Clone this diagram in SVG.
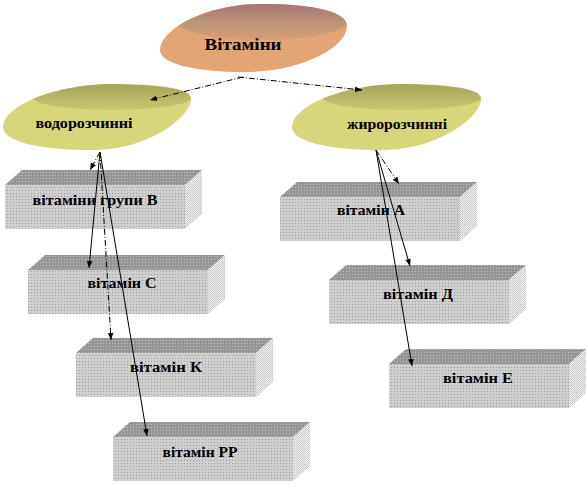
<svg xmlns="http://www.w3.org/2000/svg" width="587" height="484" viewBox="0 0 587 484">
<defs>
<pattern id="pFront" patternUnits="userSpaceOnUse" width="3" height="3"><rect width="3" height="3" fill="#cfcfcf"/><rect x="1" y="1" width="1" height="1" fill="#9c9c9c"/></pattern>
<pattern id="pTop" patternUnits="userSpaceOnUse" width="3" height="3"><rect width="3" height="3" fill="#959595"/><rect x="1" y="1" width="1" height="1" fill="#c4c4c4"/></pattern>
<pattern id="pSide" patternUnits="userSpaceOnUse" width="2" height="2"><rect width="2" height="2" fill="#f4f4f4"/><rect width="1" height="1" fill="#bdbdbd"/><rect x="1" y="1" width="1" height="1" fill="#cfcfcf"/></pattern>
<linearGradient id="gTopMain" x1="0" y1="0" x2="0" y2="1"><stop offset="0" stop-color="#a87078"/><stop offset="0.55" stop-color="#bc9676"/><stop offset="1" stop-color="#d6a074"/></linearGradient>
<linearGradient id="gTopYel" x1="0" y1="0" x2="0" y2="1"><stop offset="0" stop-color="#a4a45c"/><stop offset="1" stop-color="#cac86e"/></linearGradient>
<path id="bodyL" d="M3,127 C3,105 58,84 112,84 C160,84 191,88 191,99 C191,116 150,150 92,150 C40,150 3,142 3,127 Z"/>
<path id="bodyR" d="M292,127 C292,105 347,84 401,84 C449,84 481,88 481,99 C481,116 440,150 381,150 C329,150 292,142 292,127 Z"/>
<path id="bodyM" d="M160,50 C160,30 205,4 262,4 C315,4 347,12 347,26 C347,48 300,72 245,72 C195,72 160,64 160,50 Z"/>
<clipPath id="cL"><use href="#bodyL"/></clipPath>
<clipPath id="cR"><use href="#bodyR"/></clipPath>
<clipPath id="cM"><use href="#bodyM"/></clipPath>
<marker id="arr" viewBox="0 0 10 10" refX="10" refY="5" markerWidth="7" markerHeight="7" orient="auto" markerUnits="userSpaceOnUse"><path d="M0,1 L10,5 L0,9 z" fill="#000"/></marker>
<style>
.lbl{font-family:"Liberation Serif","DejaVu Serif",serif;font-weight:bold;fill:#000;text-anchor:middle}
.front{fill:url(#pFront)}
.top{fill:url(#pTop)}
.side{fill:url(#pSide)}
.con{fill:none;stroke:#000;stroke-width:1;marker-end:url(#arr)}
.dash{stroke-dasharray:6,2,1,2}
</style>
</defs>

<g id="vitaminy">
<use href="#bodyM" fill="#e4a474"/>
<ellipse cx="262" cy="21" rx="86" ry="19" fill="url(#gTopMain)" clip-path="url(#cM)"/>
<text class="lbl" x="243" y="50" font-size="17" font-family="Liberation Serif, DejaVu Serif, serif" textLength="77" lengthAdjust="spacingAndGlyphs">Вітаміни</text>
</g>

<g id="vodorozchynni">
<use href="#bodyL" fill="#d8d67a"/>
<ellipse cx="112" cy="97" rx="80" ry="13" fill="url(#gTopYel)" clip-path="url(#cL)"/>
<text class="lbl" x="84" y="128" font-size="14" font-family="Liberation Serif, DejaVu Serif, serif" textLength="97" lengthAdjust="spacingAndGlyphs">водорозчинні</text>
</g>

<g id="zhyrorozchynni">
<use href="#bodyR" fill="#d8d67a"/>
<ellipse cx="402" cy="97" rx="80" ry="13" fill="url(#gTopYel)" clip-path="url(#cR)"/>
<text class="lbl" x="397" y="129" font-size="14" font-family="Liberation Serif, DejaVu Serif, serif" textLength="100" lengthAdjust="spacingAndGlyphs">жиророзчинні</text>
</g>

<g id="grupaB">
<polygon class="top" points="5,185 22,170 202,170 185,185"/>
<polygon class="side" points="185,185 202,170 202,214 185,229"/>
<rect class="front" x="5" y="185" width="180" height="44"/>
<text class="lbl" x="95" y="205" font-size="14" font-family="Liberation Serif, DejaVu Serif, serif" textLength="125" lengthAdjust="spacingAndGlyphs">вітаміни групи В</text>
</g>

<g id="vitC">
<polygon class="top" points="28,270 45,255 225,255 208,270"/>
<polygon class="side" points="208,270 225,255 225,299 208,314"/>
<rect class="front" x="28" y="270" width="180" height="44"/>
<text class="lbl" x="122" y="288" font-size="14" font-family="Liberation Serif, DejaVu Serif, serif" textLength="69" lengthAdjust="spacingAndGlyphs">вітамін С</text>
</g>

<g id="vitK">
<polygon class="top" points="76,353 93,338 273,338 256,353"/>
<polygon class="side" points="256,353 273,338 273,382 256,397"/>
<rect class="front" x="76" y="353" width="180" height="44"/>
<text class="lbl" x="166" y="372" font-size="14" font-family="Liberation Serif, DejaVu Serif, serif" textLength="72" lengthAdjust="spacingAndGlyphs">вітамін К</text>
</g>

<g id="vitPP">
<polygon class="top" points="113,437 130,422 310,422 293,437"/>
<polygon class="side" points="293,437 310,422 310,466 293,481"/>
<rect class="front" x="113" y="437" width="180" height="44"/>
<text class="lbl" x="200" y="457" font-size="14" font-family="Liberation Serif, DejaVu Serif, serif" textLength="75" lengthAdjust="spacingAndGlyphs">вітамін РР</text>
</g>

<g id="vitA">
<polygon class="top" points="280,197 297,182 477,182 460,197"/>
<polygon class="side" points="460,197 477,182 477,226 460,241"/>
<rect class="front" x="280" y="197" width="180" height="44"/>
<text class="lbl" x="371" y="215" font-size="14" font-family="Liberation Serif, DejaVu Serif, serif" textLength="68" lengthAdjust="spacingAndGlyphs">вітамін А</text>
</g>

<g id="vitD">
<polygon class="top" points="329,280 346,265 526,265 509,280"/>
<polygon class="side" points="509,280 526,265 526,309 509,324"/>
<rect class="front" x="329" y="280" width="180" height="44"/>
<text class="lbl" x="418" y="299" font-size="14" font-family="Liberation Serif, DejaVu Serif, serif" textLength="70" lengthAdjust="spacingAndGlyphs">вітамін Д</text>
</g>

<g id="vitE">
<polygon class="top" points="389,364 406,349 586,349 569,364"/>
<polygon class="side" points="569,364 586,349 586,393 569,408"/>
<rect class="front" x="389" y="364" width="180" height="44"/>
<text class="lbl" x="478" y="383" font-size="14" font-family="Liberation Serif, DejaVu Serif, serif" textLength="70" lengthAdjust="spacingAndGlyphs">вітамін Е</text>
</g>

<g id="connectors">
<line class="con dash" x1="243" y1="77" x2="150" y2="100"/>
<line class="con dash" x1="238" y1="77" x2="362" y2="90"/>
<line class="con dash" x1="100" y1="152" x2="90" y2="170"/>
<line class="con" x1="100" y1="152" x2="89" y2="268"/>
<line class="con dash" x1="100" y1="152" x2="111" y2="340"/>
<line class="con" x1="100" y1="152" x2="147" y2="436"/>
<line class="con dash" x1="376" y1="150" x2="399" y2="184"/>
<line class="con" x1="376" y1="150" x2="410" y2="266"/>
<line class="con" x1="376" y1="150" x2="412" y2="366"/>
</g>
</svg>
